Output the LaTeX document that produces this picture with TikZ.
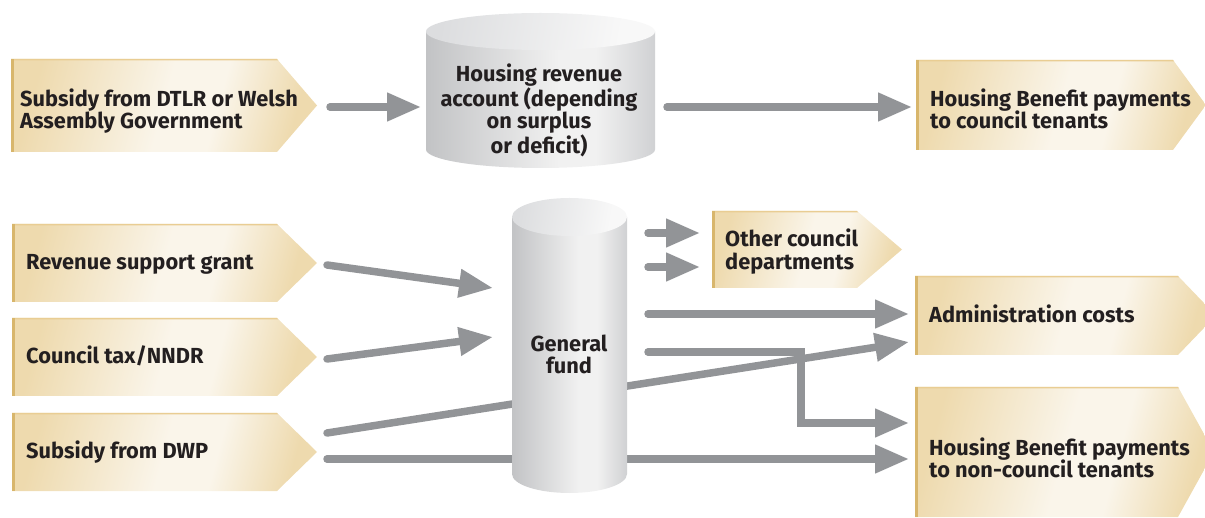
\documentclass[tikz,border=0pt]{standalone}
\usepackage{fontspec}
\setmainfont{Fira Sans}
\usetikzlibrary{arrows.meta}

\definecolor{ink}{HTML}{231F20}
\definecolor{arrowgray}{HTML}{929497}
\definecolor{tagA}{HTML}{EEDAAE}
\definecolor{tagB}{HTML}{FAF5EA}
\definecolor{tagrim}{HTML}{D8B66C}
\definecolor{tagtop}{HTML}{E9CD93}
\definecolor{cylL}{HTML}{C2C3C5}
\definecolor{cylM}{HTML}{F1F1F1}
\definecolor{cylR}{HTML}{D0D1D3}
\definecolor{topL}{HTML}{DCDDDF}
\definecolor{topR}{HTML}{F8F8F8}

% fills for the tag boxes and the two cylinders
\pgfdeclarehorizontalshading{tagfill}{100bp}{color(0bp)=(tagA); color(25bp)=(tagA); color(50bp)=(tagB); color(60bp)=(tagB); color(75bp)=(tagA); color(100bp)=(tagA)}
\pgfdeclarehorizontalshading{cylbody}{100bp}{color(0bp)=(cylL); color(25bp)=(cylL); color(54bp)=(cylM); color(62bp)=(cylM); color(75bp)=(cylR); color(100bp)=(cylR)}
\pgfdeclarehorizontalshading{cyltop}{100bp}{color(0bp)=(topL); color(25bp)=(topL); color(70bp)=(topR); color(100bp)=(topR)}

% tag box: left, top, right end of straight part, bottom, tip x
\newcommand\drawtag[5]{%
  \shade[shading=tagfill,shading angle=-15] (#1,#2) -- (#3,#2) -- (#5,{(#2+#4)/2}) -- (#3,#4) -- (#1,#4) -- cycle;
  \fill[tagtop] (#1,#2) -- (#3,#2) -- ({#3+1.3},{#2+1.5}) -- (#1,{#2+1.5}) -- cycle;
  \fill[tagrim] (#1,#2) rectangle ({#1+3},#4);
}
% cylinder: centre x, x radius, top y, bottom y, y radius
\newcommand\drawcyl[5]{%
  \shade[shading=cylbody] ({#1-#2},#3) -- ({#1-#2},#4)
    arc[start angle=180,end angle=0,x radius=#2,y radius=#5] -- ({#1+#2},#3) -- cycle;
  \shade[shading=cyltop,shading angle=-10] (#1,#3) ellipse[x radius=#2,y radius=#5];
}

\begin{document}
\begin{tikzpicture}[x=1pt,y=-1pt,
  lbl/.style={inner sep=0pt,text=ink,font=\bfseries\fontsize{21.8}{22.6}\selectfont},
  flow/.style={draw=arrowgray,line width=7.5pt,line cap=round,line join=miter,
    -{Triangle[length=34pt,width=27pt]}}]
\useasboundingbox (0,0) rectangle (1205,518);

% tag boxes
\drawtag{11}{59}{277}{152}{317}
\drawtag{916}{60}{1173}{150}{1206}
\drawtag{12}{224}{277}{302}{317}
\drawtag{12}{318}{277}{396}{317}
\drawtag{12}{413}{277}{491}{317}
\drawtag{712}{211}{857}{288}{902}
\drawtag{915}{276}{1178}{355}{1216}
\drawtag{915}{387}{1178}{517}{1214}

% connector ends
\coordinate (dtlr-o) at (330,107);
\coordinate (hra-i) at (421,107);
\coordinate (hra-o) at (667,107);
\coordinate (hbc-i) at (912,107);
\coordinate (rsg-o) at (327,265);
\coordinate (gf-i1) at (493,288);
\coordinate (ct-o) at (327,359);
\coordinate (gf-i2) at (493,337);
\coordinate (dwp-o1) at (327,433);
\coordinate (dwp-o2) at (327,459);
\coordinate (adm-i1) at (909,314);
\coordinate (adm-i2) at (909,342);
\coordinate (hbn-i1) at (909,423);
\coordinate (hbn-i2) at (909,459);
\coordinate (gf-o1) at (648,233);
\coordinate (gf-o2) at (648,267);
\coordinate (gf-o3) at (648,314);
\coordinate (gf-o4) at (648,352);
\coordinate (ocd-i1) at (700,233);
\coordinate (ocd-i2) at (700,267);
\coordinate (bend) at (801,352);

% flows from DWP pass behind the general fund
\draw[flow] (dwp-o1) -- (adm-i2);
\draw[flow] (dwp-o2) -- (hbn-i2);

% cylinders
\drawcyl{540.5}{114.5}{31.5}{149.5}{18.5}
\drawcyl{569.5}{57.5}{217}{474}{19}

% remaining flows
\draw[flow] (dtlr-o) -- (hra-i);
\draw[flow] (hra-o) -- (hbc-i);
\draw[flow] (rsg-o) -- (gf-i1);
\draw[flow] (ct-o) -- (gf-i2);
\draw[flow] (gf-o1) -- (ocd-i1);
\draw[flow] (gf-o2) -- (ocd-i2);
\draw[flow] (gf-o3) -- (adm-i1);
\draw[flow] (gf-o4) -- (bend) |- (hbn-i1);

% labels
\node[lbl,align=left,anchor=west] (dtlr) at (20,111) {Subsidy from DTLR or Welsh\\Assembly Government};
\node[lbl,align=center] (hra) at (539,110.5) {Housing revenue\\account (depending\\on surplus\\or deficit)};
\node[lbl,align=left,anchor=west] (hbc) at (930,109) {Housing Benefit payments\\to council tenants};
\node[lbl,anchor=base west] (rsg) at (26,270) {Revenue support grant};
\node[lbl,anchor=base west] (ct) at (26,364) {Council tax/NNDR};
\node[lbl,anchor=base west] (dwp) at (26,458) {Subsidy from DWP};
\node[lbl,align=center] (gf) at (569,354.5) {General\\fund};
\node[lbl,align=left,anchor=west] (ocd) at (725,251.5) {Other council\\departments};
\node[lbl,anchor=base west] (adm) at (929,323) {Administration costs};
\node[lbl,align=left,anchor=west] (hbn) at (929,458) {Housing Benefit payments\\to non-council tenants};
\end{tikzpicture}
\end{document}
